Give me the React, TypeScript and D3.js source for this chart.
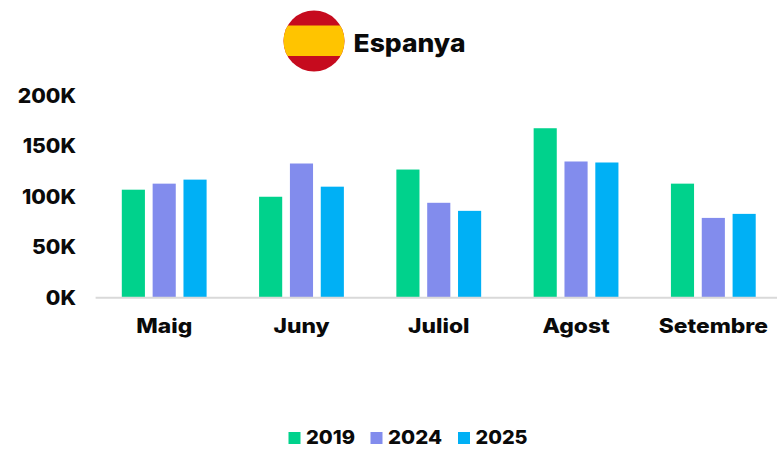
import React from "react";
import * as d3 from "d3";

const months = ["Maig", "Juny", "Juliol", "Agost", "Setembre"];
const years = ["2019", "2024", "2025"];
const v2019 = [107, 100, 127, 168, 113];
const v2024 = [113, 133, 94, 135, 79];
const v2025 = [117, 110, 86, 134, 83];
const seriesValues = [v2019, v2024, v2025];
const colors = ["#00d28c", "#828ced", "#00b0f5"];
const yTicks = [0, 50, 100, 150, 200];
const title = "Espanya";

const FONT = "Inter, 'Open Sans', sans-serif";

export default function App() {
  const x = d3.scaleBand<string>().domain(months).range([95.6, 782]).paddingInner(0).paddingOuter(0);
  const inner = d3.scaleBand<string>().domain(years).range([26.2, 111]).paddingInner(0.25);
  const y = d3.scaleLinear().domain([0, 200]).range([297.5, 96]);
  const legendX = [288.5, 370.5, 458];
  const legendTextWidth = [49, 54, 52];
  const clipId = "flagClip";
  return (
    <svg width={777} height={449} style={{ position: "absolute", left: 0, top: 0, background: "#fff", fontFamily: FONT, fontWeight: 800 }}>
      <defs>
        <clipPath id={clipId}><circle cx={314} cy={41} r={30.5} /></clipPath>
      </defs>
      <g clipPath={`url(#${clipId})`}>
        <rect x={283} y={10} width={62} height={62} fill="#c60b1e" />
        <rect x={283} y={25.5} width={62} height={30.5} fill="#ffc400" />
      </g>
      <text x={353.5} y={52} fontSize={24.5} fill="#0a0a0a" textLength={112} lengthAdjust="spacingAndGlyphs">{title}</text>

      {yTicks.map((t) => (
        <text key={t} transform={`translate(76,${y(t) + 7}) scale(1.055,1)`} textAnchor="end" fontSize={20} fill="#0a0a0a">{t}K</text>
      ))}

      {seriesValues.map((vals, s) =>
        vals.map((v, i) => (
          <rect
            key={`${s}-${i}`}
            x={(x(months[i]) as number) + (inner(years[s]) as number)}
            y={y(v)}
            width={inner.bandwidth()}
            height={y(0) - y(v)}
            fill={colors[s]}
          />
        ))
      )}
      <line x1={95.6} x2={777} y1={297.8} y2={297.8} stroke="#d9d9d9" strokeWidth={2} />

      {months.map((m) => (
        <text key={m} transform={`translate(${(x(m) as number) + x.bandwidth() / 2},333) scale(1.14,1)`} textAnchor="middle" fontSize={20} fill="#0a0a0a">{m}</text>
      ))}

      {years.map((yr, i) => (
        <g key={yr}>
          <rect x={legendX[i]} y={432} width={12} height={12} fill={colors[i]} />
          <text x={legendX[i] + 17.5} y={444.4} fontSize={19} fill="#0a0a0a" textLength={legendTextWidth[i]} lengthAdjust="spacingAndGlyphs">{yr}</text>
        </g>
      ))}
    </svg>
  );
}
